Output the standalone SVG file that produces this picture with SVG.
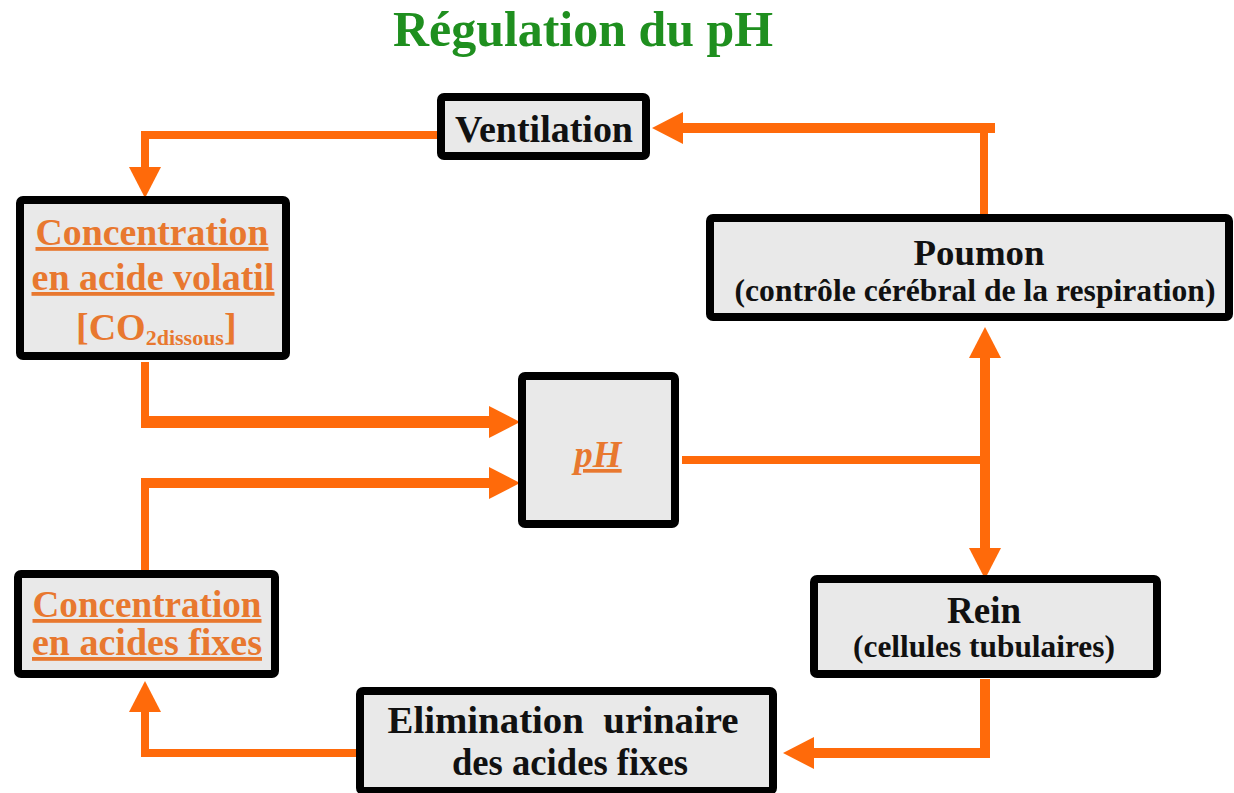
<svg xmlns="http://www.w3.org/2000/svg" width="1234" height="793" viewBox="0 0 1234 793">
<style>
.box{fill:#e9e9e9;stroke:#000;stroke-width:8;}
.t{font-family:"Liberation Serif","Times New Roman",serif;font-weight:bold;fill:#111;text-anchor:middle;}
.o{fill:#e8782f;}
.u{text-decoration:underline;}
.c{fill:none;stroke:#ff6a0a;stroke-linejoin:miter;}
</style>
<defs>
<marker id="ah" markerUnits="userSpaceOnUse" markerWidth="32" markerHeight="32" refX="0" refY="16" orient="auto-start-reverse" viewBox="0 0 32 32">
<path d="M0,0 L31,16 L0,32 z" fill="#ff6a0a"/>
</marker>
</defs>
<rect width="1234" height="793" fill="#fff"/>
<text id="title" class="t" x="583" y="46" font-size="50" fill="#1f8f1f" style="fill:#1f8f1f" textLength="380" lengthAdjust="spacingAndGlyphs">Régulation du pH</text>

<g id="connectors">
<path class="c" stroke-width="8" d="M984,215 V128"/>
<path class="c" stroke-width="10" d="M995,128 H683" marker-end="url(#ah)"/>
<path class="c" stroke-width="8" d="M437,135 H145 V167" marker-end="url(#ah)"/>
<path class="c" stroke-width="8" d="M145,362 V422"/>
<path class="c" stroke-width="12" d="M141,422 H489" marker-end="url(#ah)"/>
<path class="c" stroke-width="8" d="M145,570 V483"/>
<path class="c" stroke-width="10" d="M141,483 H489" marker-end="url(#ah)"/>
<path class="c" stroke-width="8" d="M682,460 H985"/>
<path class="c" stroke-width="10" d="M985,358 V548" marker-start="url(#ah)" marker-end="url(#ah)"/>
<path class="c" stroke-width="10" d="M985,679 V753 H814" marker-end="url(#ah)"/>
<path class="c" stroke-width="8" d="M357,753 H145 V712" marker-end="url(#ah)"/>
</g>

<g id="ventilation">
<rect class="box" x="441" y="97" width="205" height="59" rx="3"/>
<text class="t" x="544" y="142" font-size="38" textLength="178" lengthAdjust="spacingAndGlyphs">Ventilation</text>
</g>

<g id="conc-volatil">
<rect class="box" x="20" y="200" width="266" height="156" rx="3"/>
<text class="t o u" x="152" y="245" font-size="38" textLength="233" lengthAdjust="spacingAndGlyphs">Concentration</text>
<text class="t o u" x="153" y="290" font-size="38" textLength="243" lengthAdjust="spacingAndGlyphs">en acide volatil</text>
<text class="t o" x="76" y="340" font-size="38" style="text-anchor:start">[CO<tspan font-size="22" dy="5">2dissous</tspan><tspan dy="-5">]</tspan></text>
</g>

<g id="poumon">
<rect class="box" x="710" y="218" width="519" height="99" rx="3"/>
<text class="t" x="979" y="265" font-size="36" textLength="131" lengthAdjust="spacingAndGlyphs">Poumon</text>
<text class="t" x="975" y="301" font-size="31" textLength="481" lengthAdjust="spacingAndGlyphs">(contrôle cérébral de la respiration)</text>
</g>

<g id="ph">
<rect class="box" x="522" y="376" width="153" height="148" rx="3"/>
<text class="t o u" x="598" y="467" font-size="37" font-style="italic">pH</text>
</g>

<g id="conc-fixes">
<rect class="box" x="18" y="574" width="257" height="100" rx="3"/>
<text class="t o u" x="147" y="617" font-size="38" textLength="229" lengthAdjust="spacingAndGlyphs">Concentration</text>
<text class="t o u" x="147" y="655" font-size="38" textLength="230" lengthAdjust="spacingAndGlyphs">en acides fixes</text>
</g>

<g id="rein">
<rect class="box" x="814" y="579" width="343" height="95" rx="3"/>
<text class="t" x="984" y="623" font-size="37" textLength="74" lengthAdjust="spacingAndGlyphs">Rein</text>
<text class="t" x="984" y="657" font-size="31" textLength="262" lengthAdjust="spacingAndGlyphs">(cellules tubulaires)</text>
</g>

<g id="elimination">
<rect class="box" x="360" y="691" width="413" height="100" rx="3"/>
<text class="t" x="563" y="733" font-size="38" textLength="351" lengthAdjust="spacingAndGlyphs" xml:space="preserve">Elimination  urinaire</text>
<text class="t" x="570" y="775" font-size="38" textLength="236" lengthAdjust="spacingAndGlyphs">des acides fixes</text>
</g>
</svg>
